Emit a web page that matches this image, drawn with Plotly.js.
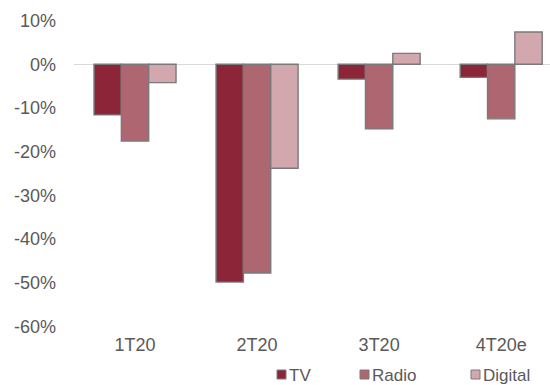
<!DOCTYPE html>
<html>
<head>
<meta charset="utf-8">
<script src="https://cdn.plot.ly/plotly-3.0.1.min.js"></script>
<style>
  html, body { margin: 0; padding: 0; background: #fff; }
  #chart { width: 550px; height: 385px; }
</style>
</head>
<body>
<div id="chart"></div>
<script>
// ---- data ----
const categories = ['1T20', '2T20', '3T20', '4T20e'];
const tv      = [-11.6, -49.9, -3.4, -3.0];
const radio   = [-17.6, -47.8, -14.8, -12.5];
const digital = [-4.2, -23.8, 2.5, 7.4];
const seriesNames = ['TV', 'Radio', 'Digital'];
const yTickVals = [10, 0, -10, -20, -30, -40, -50, -60];
const yTickLabels = ['10%', '0%', '-10%', '-20%', '-30%', '-40%', '-50%', '-60%'];

// ---- styling ----
const colors = ['#8c2538', '#ae6670', '#d3a7ae'];
const borderColor = '#7a7a7a';
const textColor = '#595959';
const FONT = 'Liberation Sans, Arial, sans-serif';

const W = 550, H = 385;
const M = {l: 74, r: 0, t: 15, b: 55};
const plotW = W - M.l - M.r, plotH = H - M.t - M.b;
const px2x = p => (p - M.l) / plotW;
const px2y = p => (H - M.b - p) / plotH;

const values = [tv, radio, digital];
const traces = values.map((v, i) => ({
  type: 'bar',
  name: seriesNames[i],
  x: categories,
  y: v,
  marker: {color: colors[i], line: {color: borderColor, width: 1.4}},
  hoverinfo: 'x+y+name'
}));

// manual legend (positions in pixels)
const legendMarkerLeft = [277, 360, 471];
const legendSize = 9;
const legendTop = 370;
const shapes = [];
const annotations = [];
seriesNames.forEach((n, i) => {
  shapes.push({
    type: 'rect', xref: 'paper', yref: 'paper',
    x0: px2x(legendMarkerLeft[i]), x1: px2x(legendMarkerLeft[i] + legendSize),
    y0: px2y(legendTop), y1: px2y(legendTop + legendSize),
    fillcolor: colors[i], line: {color: borderColor, width: 1}
  });
  annotations.push({
    xref: 'paper', yref: 'paper',
    x: px2x(legendMarkerLeft[i] + legendSize + 2), y: px2y(legendTop + legendSize / 2 + 1),
    xanchor: 'left', yanchor: 'middle',
    text: n, showarrow: false, borderpad: 0,
    font: {family: FONT, size: 17, color: textColor}
  });
});

const layout = {
  width: W, height: H,
  margin: {l: M.l, r: M.r, t: M.t, b: M.b, pad: 0, autoexpand: false},
  paper_bgcolor: '#ffffff', plot_bgcolor: '#ffffff',
  showlegend: false,
  barmode: 'group', bargap: 0.328, bargroupgap: 0,
  font: {family: FONT, size: 18, color: textColor},
  xaxis: {
    range: [-0.5, 3.40], showgrid: false, zeroline: false, showline: false,
    ticks: '', ticklabelstandoff: 2,
    tickfont: {family: FONT, size: 18, color: textColor},
    fixedrange: true
  },
  yaxis: {
    range: [-60.87, 11.29], showgrid: false, showline: false,
    zeroline: true, zerolinecolor: '#d9d9d9', zerolinewidth: 1.5,
    tickvals: yTickVals, ticktext: yTickLabels, ticks: '',
    ticklabelstandoff: 17,
    tickfont: {family: FONT, size: 18, color: textColor},
    fixedrange: true
  },
  shapes: shapes,
  annotations: annotations
};

Plotly.newPlot('chart', traces, layout, {displayModeBar: false, staticPlot: true});
</script>
</body>
</html>
